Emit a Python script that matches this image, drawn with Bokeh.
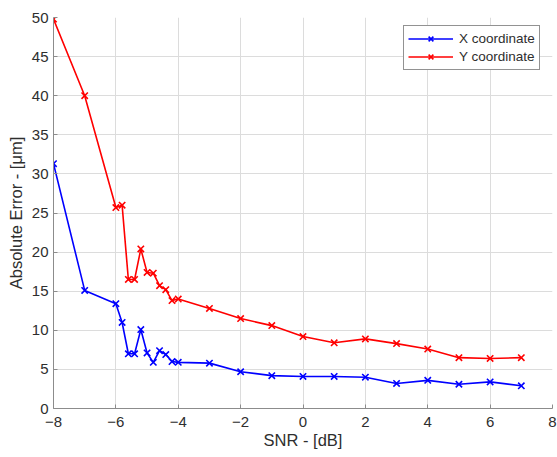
from bokeh.plotting import figure
from bokeh.models import Range1d, FixedTicker, Legend, LegendItem
from bokeh.embed import file_html
from bokeh.resources import INLINE

snr = [-8, -7, -6, -5.8, -5.6, -5.4, -5.2, -5, -4.8, -4.6, -4.4, -4.2, -4, -3, -2, -1, 0, 1, 2, 3, 4, 5, 6, 7]
x_err = [31.3, 15.1, 13.4, 11.0, 7.0, 7.0, 10.1, 7.1, 5.9, 7.4, 6.9, 6.0, 5.9, 5.8, 4.7, 4.2, 4.1, 4.1, 4.0, 3.2, 3.6, 3.1, 3.4, 2.9]
y_err = [49.8, 40.0, 25.7, 26.0, 16.5, 16.5, 20.4, 17.4, 17.3, 15.7, 15.2, 13.8, 14.0, 12.8, 11.5, 10.6, 9.2, 8.4, 8.9, 8.3, 7.6, 6.5, 6.4, 6.5]
x_ticks = [-8, -6, -4, -2, 0, 2, 4, 6, 8]
y_ticks = [0, 5, 10, 15, 20, 25, 30, 35, 40, 45, 50]
series_names = ["X coordinate", "Y coordinate"]
series_colors = ["#0000FF", "#FF0000"]

FONT = "Liberation Sans"
TXT = "#2e2e2e"

p = figure(width=557, height=457, output_backend="svg", toolbar_location=None,
           x_range=Range1d(-8, 8), y_range=Range1d(0, 50),
           min_border_left=53, min_border_right=5, min_border_top=17, min_border_bottom=49)
p.background_fill_color = "white"
p.border_fill_color = "white"
p.outline_line_color = None

items = []
for ys, name, col in zip([x_err, y_err], series_names, series_colors):
    r1 = p.line(snr, ys, line_color=col, line_width=1.6)
    r2 = p.scatter(snr, ys, marker="x", size=9, line_color=col, line_width=1.6)
    items.append(LegendItem(label=name, renderers=[r1, r2]))

for ax, ticks in ((p.xaxis, x_ticks), (p.yaxis, y_ticks)):
    ax.ticker = FixedTicker(ticks=ticks)
    ax.major_label_text_font = FONT
    ax.major_label_text_font_size = "15px"
    ax.major_label_text_color = TXT
    ax.axis_label_text_font = FONT
    ax.axis_label_text_font_size = "16.5px"
    ax.axis_label_text_font_style = "normal"
    ax.axis_label_text_color = TXT
    ax.axis_line_color = "#8c8c8c"
    ax.axis_line_width = 1
    ax.major_tick_line_color = "#8c8c8c"
    ax.major_tick_in = 4
    ax.major_tick_out = 0
    ax.minor_tick_line_color = None

p.xaxis.axis_label = "SNR - [dB]"
p.yaxis.axis_label = "Absolute Error - [μm]"
p.xaxis.major_label_standoff = 8
p.xaxis.axis_label_standoff = 1
p.yaxis.major_label_standoff = 5
p.yaxis.axis_label_standoff = 4

p.xgrid.ticker = FixedTicker(ticks=x_ticks)
p.ygrid.ticker = FixedTicker(ticks=y_ticks)
p.grid.grid_line_color = "#dcdcdc"
p.grid.grid_line_width = 1

legend = Legend(items=items, location=(350, 338))
legend.label_text_font = FONT
legend.label_text_font_size = "13.5px"
legend.label_text_color = TXT
legend.border_line_color = "#262626"
legend.border_line_width = 1
legend.background_fill_color = "white"
legend.background_fill_alpha = 1
legend.glyph_width = 45
legend.glyph_height = 17
legend.label_standoff = 6
legend.label_height = 17
legend.spacing = 1
legend.padding = 4
legend.margin = 0
p.add_layout(legend)

open("out.html", "w").write(file_html(p, INLINE))
